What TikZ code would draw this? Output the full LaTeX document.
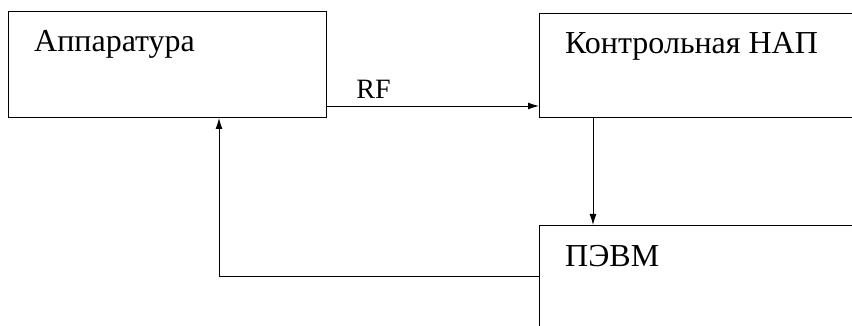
\documentclass[tikz,border=0pt]{standalone}
\usepackage{fontspec}
\setmainfont{Liberation Serif}
\usetikzlibrary{arrows.meta, positioning, calc}

\begin{document}
\begin{tikzpicture}[x=1pt, y=-1pt,
    block/.style={draw, line width=1pt, anchor=north west, minimum width=330pt, minimum height=106pt, inner sep=0pt},
    blocklabel/.style={anchor=base west, inner sep=0pt, xshift=26pt, yshift=-41pt, font=\rmfamily\fontsize{32}{37}\selectfont},
    conn/.style={-{Latex[length=11pt, width=7pt]}, line width=0.9pt}]
    \useasboundingbox (0,0) rectangle (852,326);
    \clip (0,0) rectangle (852,326);

    % Blocks
    \node[block, minimum width=318pt, label={[blocklabel]north west:Аппаратура}] (app) at (8, 11) {};
    \node[block, minimum height=104pt, label={[blocklabel]north west:Контрольная НАП}] (nap) at (539, 13) {};
    \node[block, minimum height=140pt, label={[blocklabel]north west:ПЭВМ}] (pevm) at (539, 225) {};

    % Links
    \draw[conn] ([yshift=12pt]app.south east) -- node[pos=0, anchor=base west, xshift=29pt, yshift=7pt, inner sep=0pt, font=\rmfamily\fontsize{28}{33}\selectfont]{RF} ([yshift=12pt]app.south east -| nap.west);
    \draw[conn] ([xshift=54pt]nap.south west) -- ([xshift=54pt]nap.south west |- pevm.north);
    \draw[conn] ([yshift=-51pt]pevm.north west) -| ([xshift=211pt]app.south west);
\end{tikzpicture}
\end{document}
